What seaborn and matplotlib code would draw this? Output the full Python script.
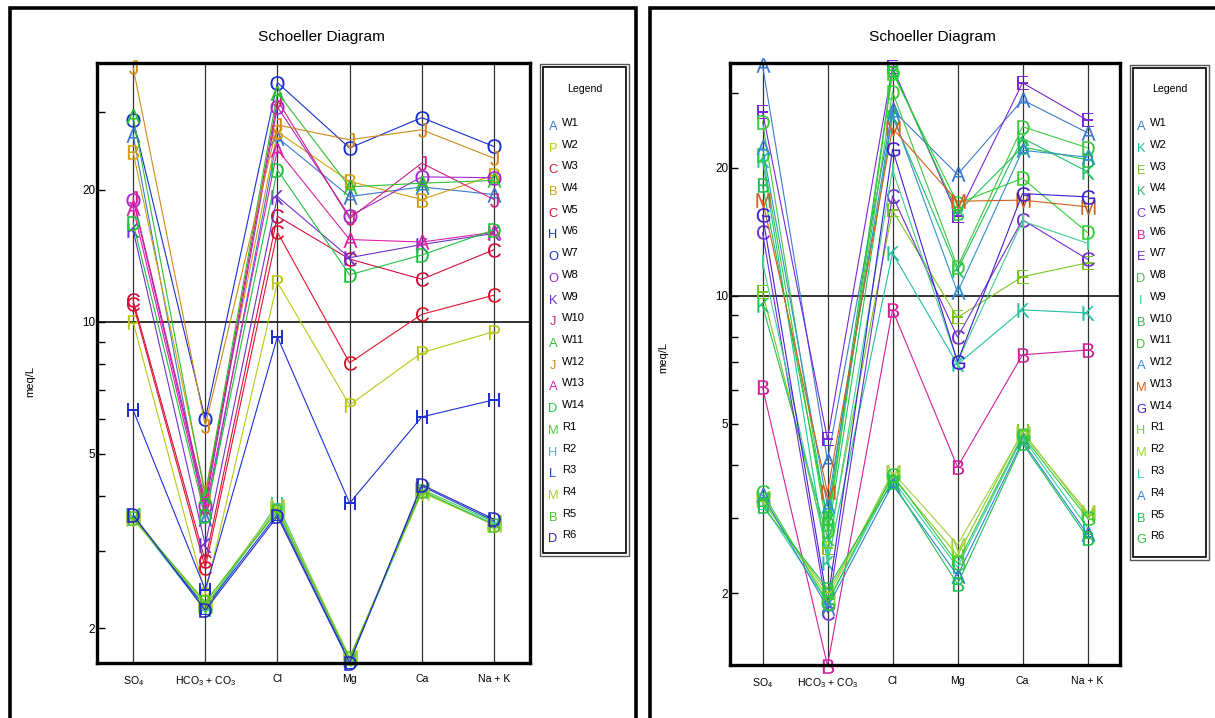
import numpy as np
import pandas as pd
import matplotlib
matplotlib.use("Agg")
import matplotlib.pyplot as plt
from matplotlib import font_manager
from matplotlib.patches import Rectangle
from matplotlib.ticker import FixedLocator, FixedFormatter, NullFormatter
import seaborn as sns

# ---------------- data ----------------
ions = ["SO4", "HCO3 + CO3", "Cl", "Mg", "Ca", "Na + K"]
ion_labels = ["SO$_4$", "HCO$_3$ + CO$_3$", "Cl", "Mg", "Ca", "Na + K"]
samples = ["W1", "W2", "W3", "W4", "W5", "W6", "W7", "W8", "W9", "W10",
           "W11", "W12", "W13", "W14", "R1", "R2", "R3", "R4", "R5", "R6"]

# left diagram
left_letters = ["A", "P", "C", "B", "C", "H", "O", "O", "K", "J",
                "A", "J", "A", "D", "M", "H", "L", "M", "B", "D"]
left_colors = ["#3a78d0", "#b8c814", "#e0142c", "#d4a010", "#d01040", "#2030d8",
               "#1a2ed0", "#a028d0", "#7030c8", "#d02080", "#30c030", "#d08818",
               "#e020a8", "#20c040", "#40d040", "#30c8c8", "#2040d0", "#a8d028",
               "#50c028", "#2828c0"]
left_SO4 = [26.7, 10.0, 11.0, 24.4, 11.2, 6.3, 28.9, 19.0, 16.2, 19.2,
            29.4, 38.0, 18.2, 16.8, 3.62, 3.58, 3.60, 3.55, 3.57, 3.63]
left_HCO3 = [3.55, 2.4, 2.75, 4.1, 2.85, 2.45, 6.0, 3.8, 3.1, 3.9,
             4.0, 5.8, 3.7, 3.6, 2.25, 2.2, 2.23, 2.28, 2.3, 2.2]
left_Cl = [26.3, 12.3, 16.0, 27.1, 17.4, 9.24, 35.1, 30.9, 19.3, 32.0,
           33.3, 28.1, 24.7, 22.2, 3.75, 3.85, 3.65, 3.8, 3.7, 3.6]
left_Mg = [19.3, 6.46, 8.06, 20.9, 13.9, 3.86, 24.9, 17.4, 14.0, 17.2,
           20.3, 26.0, 15.4, 12.8, 1.70, 1.69, 1.68, 1.72, 1.71, 1.67]
left_Ca = [20.3, 8.5, 10.4, 19.0, 12.5, 6.07, 29.2, 21.4, 15.0, 23.0,
           20.7, 27.4, 15.2, 14.2, 4.15, 4.10, 4.22, 4.08, 4.12, 4.25]
left_NaK = [19.5, 9.5, 11.5, 21.6, 14.6, 6.64, 25.1, 21.3, 15.9, 19.0,
            21.0, 23.6, 16.0, 16.2, 3.50, 3.47, 3.52, 3.45, 3.44, 3.55]

# right diagram
right_letters = ["A", "K", "E", "K", "C", "B", "E", "D", "I", "B",
                 "D", "A", "M", "G", "H", "M", "L", "A", "B", "G"]
right_colors = ["#3a7ad0", "#20c0a0", "#78c820", "#20c060", "#7030d0", "#d0209a",
                "#7a28d8", "#40c840", "#40d090", "#20c050", "#30d030", "#3090d0",
                "#d06020", "#4020d0", "#80d020", "#a0d040", "#30d0a0", "#3080d0",
                "#20c050", "#30c840"]
right_SO4 = [34.9, 20.9, 10.2, 9.5, 14.1, 6.1, 27.1, 25.7, 12.0, 18.2,
             21.5, 22.4, 16.8, 15.5, 3.3, 3.35, 3.25, 3.4, 3.2, 3.45]
right_HCO3 = [4.1, 2.35, 2.55, 2.7, 1.8, 1.35, 4.6, 2.9, 2.45, 3.0,
              2.8, 3.2, 3.45, 1.9, 2.0, 1.95, 1.9, 1.85, 2.05, 1.9]
right_Cl = [27.4, 12.6, 15.9, 26.4, 17.2, 9.27, 34.5, 30.2, 19.8, 34.0,
            33.5, 26.8, 24.8, 22.1, 3.75, 3.85, 3.7, 3.6, 3.65, 3.8]
right_Mg = [19.3, 6.9, 8.9, 11.5, 8.0, 3.96, 15.4, 11.7, 7.0, 15.7,
            16.5, 10.2, 16.7, 7.0, 2.45, 2.6, 2.3, 2.2, 2.1, 2.35]
right_Ca = [28.9, 9.27, 11.1, 23.5, 15.1, 7.27, 31.7, 25.0, 15.0, 22.4,
            18.9, 22.0, 16.8, 17.4, 4.8, 4.75, 4.65, 4.55, 4.5, 4.7]
right_NaK = [24.2, 9.12, 11.96, 19.6, 12.2, 7.46, 25.9, 22.3, 13.3, 20.9,
             14.1, 21.2, 16.2, 17.1, 3.05, 3.1, 2.85, 2.75, 2.7, 3.0]

y_major = [2, 5, 10, 20]
y_major_labels = ["2", "5", "10", "20"]
y_minor = [3, 4, 6, 7, 8, 9, 30]

# ---------------- style ----------------
available = {f.name for f in font_manager.fontManager.ttflist}
NARROW = "Liberation Sans Narrow" if "Liberation Sans Narrow" in available else "Liberation Sans"
FS = 1.0 if NARROW == "Liberation Sans Narrow" else 0.84

sns.set_theme(style="white")
plt.rcParams["font.family"] = [NARROW, "DejaVu Sans"]
plt.rcParams["mathtext.fontset"] = "custom"
plt.rcParams["mathtext.rm"] = NARROW
plt.rcParams["mathtext.sf"] = NARROW
plt.rcParams["mathtext.it"] = NARROW
plt.rcParams["text.color"] = "black"
plt.rcParams["axes.labelcolor"] = "black"
plt.rcParams["xtick.color"] = "black"
plt.rcParams["ytick.color"] = "black"

W, H = 1215, 718
fig = plt.figure(figsize=(W / 100, H / 100), dpi=100)


def fx(x):
    return x / W


def fy(y):
    return 1 - y / H


def frame_box(x0, y0, x1, y1, lw, color="black"):
    fig.add_artist(Rectangle((fx(x0), fy(y1)), fx(x1) - fx(x0), fy(y0) - fy(y1),
                             transform=fig.transFigure, fill=False, lw=lw,
                             ec=color, clip_on=False))


def draw_panel(rect, vals, letters, colors, ylim, title_xy, ylab_x, ylab_y, legend):
    ax = fig.add_axes([fx(rect[0]), fy(rect[3]), fx(rect[2]) - fx(rect[0]),
                       fy(rect[1]) - fy(rect[3])])
    rows = []
    for j, ion in enumerate(ions):
        for i, s in enumerate(samples):
            rows.append((s, ion, vals[j][i]))
    df = pd.DataFrame(rows, columns=["sample", "ion", "meq"])
    markers = {s: r"$\mathsf{%s}$" % l for s, l in zip(samples, letters)}
    palette = dict(zip(samples, colors))
    ax.set_yscale("log")
    sns.lineplot(data=df, x="ion", y="meq", hue="sample", style="sample",
                 hue_order=samples, style_order=samples, palette=palette,
                 markers=markers, dashes=False, sort=False, estimator=None,
                 errorbar=None, legend=False, ax=ax, linewidth=0.8,
                 markersize=10.5, mew=0, clip_on=False)
    ax.set_xlim(-0.5, len(ions) - 0.5)
    ax.set_ylim(*ylim)
    for j in range(len(ions)):
        ax.axvline(j, color="#333333", lw=0.9, zorder=0.5)
    ax.axhline(10, color="#222222", lw=1.3, zorder=0.5)
    ax.set_xticks(range(len(ions)))
    ax.set_xticklabels(ion_labels)
    ax.yaxis.set_major_locator(FixedLocator(y_major))
    ax.yaxis.set_major_formatter(FixedFormatter(y_major_labels))
    ax.yaxis.set_minor_locator(FixedLocator(y_minor))
    ax.yaxis.set_minor_formatter(NullFormatter())
    ax.tick_params(axis="y", which="both", direction="in", length=6, width=1,
                   left=True, pad=1.5, labelsize=10 * FS)
    ax.tick_params(axis="x", length=0, pad=8, labelsize=9 * FS, bottom=True)
    ax.set_xlabel("")
    ax.set_ylabel("meq/L", fontsize=9.5 * FS)
    ax.yaxis.set_label_coords(ylab_x, ylab_y)
    for sp in ax.spines.values():
        sp.set_linewidth(2.4)
        sp.set_color("black")
        sp.set_visible(True)
    fig.text(fx(title_xy[0]), fy(title_xy[1]), "Schoeller Diagram",
             ha="center", va="center", fontsize=13.2 * FS)
    # legend box
    lx0, ly0, lx1, ly1, letter_x, text_x, first_y, pitch = legend
    frame_box(lx0, ly0, lx1, ly1, 1.0, "#555555")
    frame_box(lx0 + 3, ly0 + 3, lx1 - 3, ly1 - 3, 1.2, "black")
    fig.text(fx((lx0 + lx1) / 2), fy(89), "Legend", ha="center", va="center",
             fontsize=9 * FS)
    for k, (s, l, c) in enumerate(zip(samples, letters, colors)):
        yy = first_y + k * pitch
        fig.text(fx(letter_x), fy(yy + 1), l, color=c, ha="center", va="center",
                 fontsize=11 * FS)
        fig.text(fx(text_x), fy(yy - 3), s, color="black", ha="left",
                 va="center", fontsize=9.5 * FS)
    return ax


# outer boxes
frame_box(10, 8, 636, 760, 2.6)
frame_box(650, 8, 1240, 760, 2.6)

left_vals = [left_SO4, left_HCO3, left_Cl, left_Mg, left_Ca, left_NaK]
right_vals = [right_SO4, right_HCO3, right_Cl, right_Mg, right_Ca, right_NaK]

draw_panel((97, 63, 530, 663), left_vals, left_letters, left_colors,
           (1.668, 38.9), (321, 37), -0.143, 0.47,
           (540, 64, 629, 556, 553, 562, 126, 21.7))
draw_panel((730, 63, 1120, 665), right_vals, right_letters, right_colors,
           (1.355, 35.3), (932, 37), -0.159, 0.51,
           (1130, 65, 1209, 560, 1141, 1150, 126, 21.75))

fig.savefig("out.png", dpi=100)
